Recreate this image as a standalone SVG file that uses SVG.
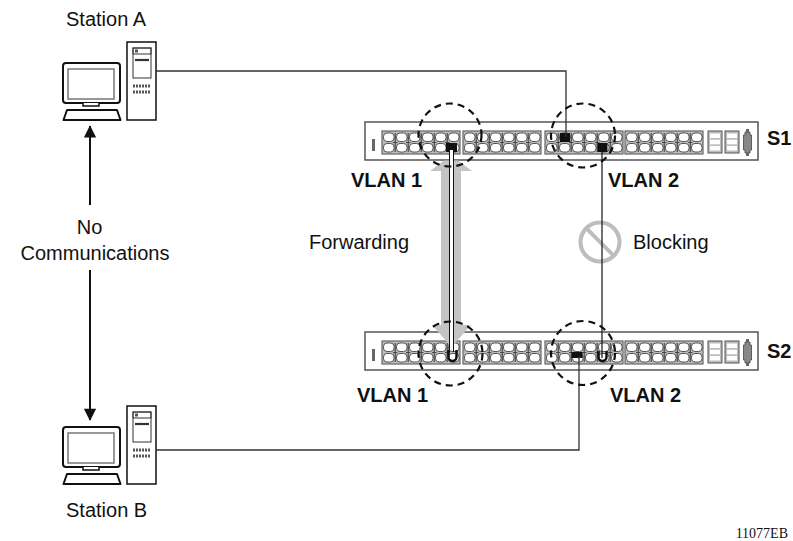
<svg xmlns="http://www.w3.org/2000/svg" xmlns:xlink="http://www.w3.org/1999/xlink" width="793" height="541" viewBox="0 0 793 541">
<style>
text{font-family:"Liberation Sans",Arial,Helvetica,sans-serif;fill:#111}
.lbl{font-size:20px}
.vl{font-size:20px;font-weight:bold}
.sw{fill:#fff;stroke:#555;stroke-width:1.5}
.mon{fill:#fff;stroke:#111;stroke-width:2;stroke-linejoin:round}
.scr{fill:#fff;stroke:#777;stroke-width:1.5}
.twr{fill:#fff;stroke:#111;stroke-width:1.5}
.wire{fill:none;stroke:#333;stroke-width:1.3}
.ring{fill:none;stroke:#111;stroke-width:2.2;stroke-dasharray:7 5}
.gray{fill:#c4c4c4}
.port{fill:#fff;stroke:#333;stroke-width:0.8}
</style>
<defs>
<g id="blk">
<rect x="0" y="0" width="78" height="23" fill="#bdbdbd" stroke="#666" stroke-width="1.2"/>
<g class="port">
<rect x="1.5" y="2" width="10.5" height="8.5" rx="3.5"/><rect x="14.5" y="2" width="10.5" height="8.5" rx="3.5"/><rect x="27.5" y="2" width="10.5" height="8.5" rx="3.5"/><rect x="40.5" y="2" width="10.5" height="8.5" rx="3.5"/><rect x="53.5" y="2" width="10.5" height="8.5" rx="3.5"/><rect x="66.5" y="2" width="10.5" height="8.5" rx="3.5"/>
<rect x="1.5" y="12.5" width="10.5" height="8.5" rx="3.5"/><rect x="14.5" y="12.5" width="10.5" height="8.5" rx="3.5"/><rect x="27.5" y="12.5" width="10.5" height="8.5" rx="3.5"/><rect x="40.5" y="12.5" width="10.5" height="8.5" rx="3.5"/><rect x="53.5" y="12.5" width="10.5" height="8.5" rx="3.5"/><rect x="66.5" y="12.5" width="10.5" height="8.5" rx="3.5"/>
</g>
<g stroke="#333" stroke-width="1">
<path d="M13.2 2v19M26.2 2v19M39.2 2v19M52.2 2v19M65.2 2v19"/>
<path d="M11 11.5h4.5M24 11.5h4.5M37 11.5h4.5M50 11.5h4.5M63 11.5h4.5" stroke-width="0.8"/>
</g>
</g>
<g id="tail">
<rect x="0" y="0" width="14" height="22" fill="#bdbdbd" stroke="#555" stroke-width="1"/>
<rect x="2" y="2.5" width="10" height="4.5" fill="#fff"/>
<rect x="2" y="8.8" width="10" height="4.5" fill="#fff"/>
<rect x="2" y="15" width="10" height="4.5" fill="#fff"/>
</g>
<g id="switch">
<rect class="sw" x="365" y="122" width="393" height="38"/>
<rect x="372" y="139" width="3" height="12" fill="#666"/>
<use xlink:href="#blk" x="382" y="131"/>
<use xlink:href="#blk" x="463" y="131"/>
<use xlink:href="#blk" x="545" y="131"/>
<use xlink:href="#blk" x="625" y="131"/>
<use xlink:href="#tail" x="708" y="131"/>
<use xlink:href="#tail" x="725" y="131"/>
<path d="M745 132 h5 v3 h1.5 v15 h-1.5 v3 h-5 v-3 h-1.5 v-15 h1.5 z" fill="#888" stroke="#444" stroke-width="0.8"/>
<rect x="746" y="129" width="3" height="3" fill="#666"/>
<rect x="746" y="153" width="3" height="3" fill="#666"/>
</g>
<g id="pc">
<rect class="twr" x="127" y="42" width="29" height="78"/>
<rect x="133" y="48" width="18" height="30" fill="none" stroke="#333" stroke-width="1"/>
<rect x="133" y="48" width="18" height="6" fill="none" stroke="#333" stroke-width="1"/>
<rect x="135" y="49.5" width="3" height="3" fill="#555"/>
<path d="M135 60 h14" stroke="#333" stroke-width="2.2"/>
<path d="M133 86 h18 M133 92 h18" stroke="#555" stroke-width="3" stroke-dasharray="2 1"/>
<rect class="mon" x="63" y="63" width="57" height="40" rx="3"/>
<rect class="scr" x="68" y="69" width="46" height="30"/>
<path d="M83 103 v3 h16 v-3" fill="#fff" stroke="#111" stroke-width="1.5"/>
<path class="mon" d="M67 110 L117 110 L120.5 120 L63.5 120 Z"/>
</g>
<marker id="ah" viewBox="0 0 14 16" refX="13" refY="7" markerWidth="14" markerHeight="14" markerUnits="userSpaceOnUse" orient="auto">
<path d="M0 0 L14 7 L0 14 Z" fill="#111"/>
</marker>
</defs>

<g id="station-a">
<use xlink:href="#pc"/>
<text class="lbl" x="66" y="26">Station A</text>
</g>
<g id="station-b">
<use xlink:href="#pc" y="364"/>
<text class="lbl" x="66" y="517">Station B</text>
</g>

<g id="s1">
<use xlink:href="#switch"/>
<text class="vl" x="767" y="145" font-size="17">S1</text>
<rect x="446" y="143" width="11" height="9" fill="#111"/>
<rect x="560" y="133" width="10" height="9" fill="#111"/>
<rect x="597.5" y="143" width="10" height="9" fill="#111"/>
</g>
<g id="s2">
<use xlink:href="#switch" y="210"/>
<text class="vl" x="767" y="358" font-size="17">S2</text>
<rect x="571.5" y="352" width="11" height="6" fill="#111"/>
<path d="M448.5 350 v7 a4 4 0 0 0 8 0 v-7" fill="none" stroke="#111" stroke-width="2.5"/>
<path d="M598.5 351 v6 a4 4 0 0 0 8 0 v-6" fill="none" stroke="#111" stroke-width="2.5"/>
</g>

<g id="connectors">
<polyline class="wire" points="156,71 566,71 566,137"/>
<polyline class="wire" points="156,450 579,450 579,356"/>
<rect class="gray" x="441" y="170" width="20" height="156"/>
<polygon class="gray" points="430,171 472,171 458,160.5 444,160.5"/>
<polygon class="gray" points="432,325 471,325 451.5,347"/>
<rect x="449.5" y="150" width="4" height="200" fill="#fff"/>
<path d="M449.5 150 V352 M453.5 150 V352" stroke="#111" stroke-width="1"/>
<circle cx="600" cy="242" r="19.5" fill="none" stroke="#bdbdbd" stroke-width="4"/>
<path d="M586.2 228.2 L613.8 255.8" stroke="#bdbdbd" stroke-width="4"/>
<path d="M602 150 V358" stroke="#111" stroke-width="1.2"/>
<path d="M90 205 V126" stroke="#111" stroke-width="2" marker-end="url(#ah)"/>
<path d="M90 270 V420" stroke="#111" stroke-width="2" marker-end="url(#ah)"/>
</g>

<g id="vlan-rings">
<circle class="ring" cx="450" cy="135" r="31.5"/>
<circle class="ring" cx="583" cy="135.5" r="32"/>
<circle class="ring" cx="450.5" cy="353.5" r="32"/>
<circle class="ring" cx="583" cy="353" r="32"/>
</g>

<g id="labels">
<text class="vl" x="422" y="187" text-anchor="end">VLAN 1</text>
<text class="vl" x="608" y="187">VLAN 2</text>
<text class="vl" x="428" y="402" text-anchor="end">VLAN 1</text>
<text class="vl" x="610" y="402">VLAN 2</text>
<text class="lbl" x="89.5" y="234" text-anchor="middle">No</text>
<text class="lbl" x="95" y="260" text-anchor="middle">Communications</text>
<text class="lbl" x="309" y="249">Forwarding</text>
<text class="lbl" x="633" y="249">Blocking</text>
<text x="788" y="538" text-anchor="end" font-family="'Liberation Serif','Times New Roman',serif" font-size="14" style="font-family:'Liberation Serif','Times New Roman',serif">11077EB</text>
</g>
</svg>
